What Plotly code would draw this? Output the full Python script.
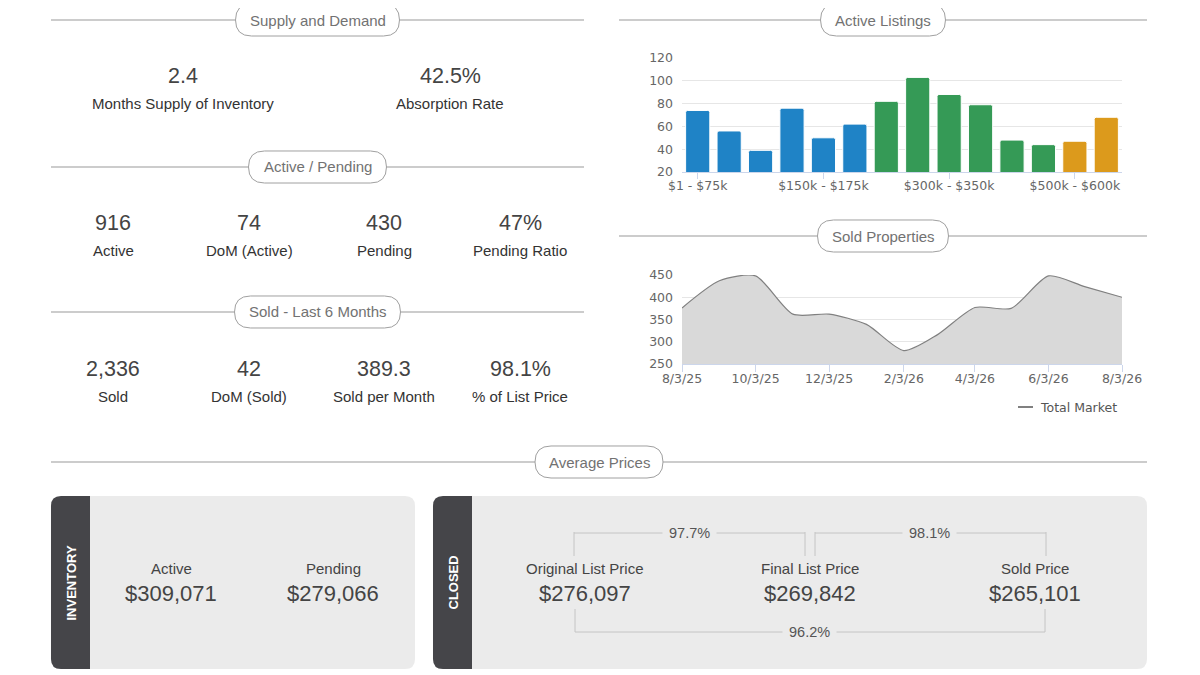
import plotly.graph_objects as go

# the page body keeps an 8px margin; the figure starts 8px in and runs to the window edge
OFF = 8
W, H = 1200 - OFF, 675 - OFF

# ---- data ----
supply_values = ["2.4", "42.5%"]
supply_labels = ["Months Supply of Inventory", "Absorption Rate"]

pending_values = ["916", "74", "430", "47%"]
pending_labels = ["Active", "DoM (Active)", "Pending", "Pending Ratio"]

sold_values = ["2,336", "42", "389.3", "98.1%"]
sold_labels = ["Sold", "DoM (Sold)", "Sold per Month", "% of List Price"]

price_ranges = [
  "$1 - $75k", "$75k - $100k", "$100k - $125k", "$125k - $150k",
  "$150k - $175k", "$175k - $200k", "$200k - $250k", "$250k - $300k",
  "$300k - $350k", "$350k - $400k", "$400k - $450k", "$450k - $500k",
  "$500k - $600k", "$600k+",
]
active_listings = [74, 56, 39, 76, 50, 62, 82, 103, 88, 79, 48, 44, 47, 68]
range_groups = ["low"] * 6 + ["mid"] * 6 + ["high"] * 2

sold_dates = [
  "2025-08-03", "2025-09-03", "2025-10-03", "2025-11-03", "2025-12-03",
  "2026-01-03", "2026-02-03", "2026-03-03", "2026-04-03", "2026-05-03",
  "2026-06-03", "2026-07-03", "2026-08-03",
]
sold_counts = [376, 437, 448, 362, 362, 339, 280, 316, 377, 375, 448, 424, 400]

inventory_labels = ["Active", "Pending"]
inventory_prices = ["$309,071", "$279,066"]
closed_labels = ["Original List Price", "Final List Price", "Sold Price"]
closed_prices = ["$276,097", "$269,842", "$265,101"]
ratio_orig_final = "97.7%"
ratio_final_sold = "98.1%"
ratio_orig_sold = "96.2%"

GROUP_COLORS = {"low": "#1f83c6", "mid": "#359a56", "high": "#dc9a1c"}
TEXT_FONT = "Liberation Sans, Arial, sans-serif"
CHART_FONT = "DejaVu Sans, sans-serif"
LINE_GREY = "#9a9a9a"
BOX_FILL = "#ebebeb"
STRIP = "#454549"


def px(x):
  return (x - OFF) / W


def py(y):
  return 1 - (y - OFF) / H


def rounded(x0, y0, x1, y1, r, left=True, right=True):
  """SVG path in paper units for a rect with rounded corners."""
  rl = r if left else 0
  rr = r if right else 0
  pts = [
    ("M", [(x0 + rl, y0)]),
    ("L", [(x1 - rr, y0)]),
    ("Q", [(x1, y0), (x1, y0 + rr)]),
    ("L", [(x1, y1 - rr)]),
    ("Q", [(x1, y1), (x1 - rr, y1)]),
    ("L", [(x0 + rl, y1)]),
    ("Q", [(x0, y1), (x0, y1 - rl)]),
    ("L", [(x0, y0 + rl)]),
    ("Q", [(x0, y0), (x0 + rl, y0)]),
  ]
  parts = []
  for cmd, coords in pts:
    parts.append(cmd + " " + " ".join(f"{px(a):.5f},{py(b):.5f}" for a, b in coords))
  return " ".join(parts) + " Z"


shapes = []
annotations = []


def text(x, y, s, size, color, anchor="center", **kw):
  annotations.append(dict(
    x=px(x), y=py(y), xref="paper", yref="paper", text=s, showarrow=False,
    xanchor=anchor, yanchor="middle", font=dict(family=kw.pop("family", TEXT_FONT), size=size, color=color),
    **kw,
  ))


def hline(x0, x1, y, color=LINE_GREY, width=1.2):
  shapes.append(dict(type="line", xref="paper", yref="paper", x0=px(x0), x1=px(x1), y0=py(y), y1=py(y),
                     line=dict(color=color, width=width)))


def vline(x, y0, y1, color="#c4c4c4", width=1):
  shapes.append(dict(type="line", xref="paper", yref="paper", x0=px(x), x1=px(x), y0=py(y0), y1=py(y1),
                     line=dict(color=color, width=width)))


def header(title, x0, x1, y, pill_w):
  hline(x0, x1, y)
  cx = (x0 + x1) / 2
  shapes.append(dict(type="path", xref="paper", yref="paper",
                     path=rounded(cx - pill_w / 2, y - 16, cx + pill_w / 2, y + 16, 16),
                     fillcolor="white", line=dict(color="#a0a0a0", width=1)))
  text(cx, y, title, 15, "#727272")


def stat(x, y, value, label):
  text(x, y, value, 21.5, "#444444")
  text(x, y + 27, label, 15, "#333333")


# ---- left column ----
header("Supply and Demand", 51, 584, 20, 164)
for x, v, l in zip([183, 450], supply_values, supply_labels):
  stat(x, 76, v, l)

header("Active / Pending", 51, 584, 167, 138)
for x, v, l in zip([113, 249, 384, 520], pending_values, pending_labels):
  stat(x, 223, v, l)

header("Sold - Last 6 Months", 51, 584, 312, 166)
for x, v, l in zip([113, 249, 384, 520], sold_values, sold_labels):
  stat(x, 369, v, l)

# ---- right column headers ----
header("Active Listings", 619, 1147, 20, 125)
header("Sold Properties", 619, 1147, 236, 131)
header("Average Prices", 51, 1147, 462, 128)

# ---- bottom boxes ----
shapes.append(dict(type="path", xref="paper", yref="paper", path=rounded(51, 496, 415, 669, 10),
                   fillcolor=BOX_FILL, line=dict(width=0), layer="below"))
shapes.append(dict(type="path", xref="paper", yref="paper", path=rounded(51, 496, 90, 669, 10, right=False),
                   fillcolor=STRIP, line=dict(width=0), layer="below"))
shapes.append(dict(type="path", xref="paper", yref="paper", path=rounded(433, 496, 1147, 669, 10),
                   fillcolor=BOX_FILL, line=dict(width=0), layer="below"))
shapes.append(dict(type="path", xref="paper", yref="paper", path=rounded(433, 496, 472, 669, 10, right=False),
                   fillcolor=STRIP, line=dict(width=0), layer="below"))

text(70.5, 583, "<b>INVENTORY</b>", 13, "white", textangle=-90)
text(452.5, 583, "<b>CLOSED</b>", 13, "white", textangle=-90)

for x, l, v in zip([171, 333], inventory_labels, inventory_prices):
  text(x, 568, l, 15, "#444444")
  text(x, 593, v, 22, "#444444")

for x, l, v in zip([585, 810, 1035], closed_labels, closed_prices):
  text(x, 568, l, 15, "#444444")
  text(x, 593, v, 22, "#444444")

# brackets between prices
hline(574, 805, 533, color="#c4c4c4", width=1)
vline(574, 532, 556)
vline(805, 532, 556)
hline(815, 1046, 533, color="#c4c4c4", width=1)
vline(815, 532, 556)
vline(1046, 532, 556)
hline(575, 1045, 632, color="#c4c4c4", width=1)
vline(575, 609, 632)
vline(1045, 609, 632)
text(689, 533, ratio_orig_final, 14.5, "#555555", bgcolor=BOX_FILL, borderpad=6)
text(929.5, 533, ratio_final_sold, 14.5, "#555555", bgcolor=BOX_FILL, borderpad=6)
text(809, 632, ratio_orig_sold, 14.5, "#555555", bgcolor=BOX_FILL, borderpad=6)

# legend for the area chart
hline(1018, 1033, 407, color="#808080", width=2)
text(1038, 407, "Total Market", 12.5, "#555555", anchor="left", family=CHART_FONT)

# faint page edge
vline(1195.5, 0, 675, color="#e8e8e8", width=2)

fig = go.Figure()

fig.add_trace(go.Bar(
  x=price_ranges, y=active_listings,
  marker=dict(color=[GROUP_COLORS[g] for g in range_groups], line=dict(color="white", width=1), cornerradius=2),
  xaxis="x", yaxis="y", hoverinfo="x+y",
))

fig.add_trace(go.Scatter(
  x=sold_dates, y=sold_counts, mode="lines", fill="tozeroy", fillcolor="#d9d9d9",
  line=dict(color="#808080", width=1.2, shape="spline", smoothing=0.7),
  xaxis="x2", yaxis="y2", name="Total Market",
))

tick_font = dict(family=CHART_FONT, size=12.5, color="#666666")

fig.update_layout(
  template="none",
  width=W, height=H, autosize=False,
  margin=dict(l=0, r=0, t=0, b=0, pad=0, autoexpand=False),
  paper_bgcolor="white", plot_bgcolor="rgba(0,0,0,0)",
  showlegend=False, bargap=0.23,
  shapes=shapes, annotations=annotations,
  xaxis=dict(
    domain=[px(682), px(1122)], anchor="y", type="category", automargin=False,
    tickvals=[price_ranges[i] for i in (0, 4, 8, 12)],
    ticks="outside", ticklen=6, tickcolor="#ccd6eb", showline=True, linecolor="#ccd6eb",
    showgrid=False, tickfont=tick_font, ticklabelstandoff=-4, fixedrange=True,
  ),
  yaxis=dict(
    domain=[py(172), py(58)], anchor="x", range=[20, 120], dtick=20, automargin=False,
    gridcolor="#e6e6e6", zeroline=False, showline=False, ticks="", tickfont=tick_font, ticklabelstandoff=8,
    fixedrange=True,
  ),
  xaxis2=dict(
    domain=[px(682), px(1122)], anchor="y2", type="date", automargin=False,
    range=[sold_dates[0], sold_dates[-1]], tick0=sold_dates[0], dtick="M2", tickformat="%-m/%-d/%y",
    ticks="outside", ticklen=7, tickcolor="#ccd6eb", showline=True, linecolor="#ccd6eb",
    showgrid=False, tickfont=tick_font, ticklabelstandoff=-4, fixedrange=True,
  ),
  yaxis2=dict(
    domain=[py(364), py(275)], anchor="x2", range=[250, 450], dtick=50, automargin=False,
    gridcolor="#e6e6e6", zeroline=False, showline=False, ticks="", tickfont=tick_font, ticklabelstandoff=8,
    fixedrange=True,
  ),
)

fig.write_html("out.html")
